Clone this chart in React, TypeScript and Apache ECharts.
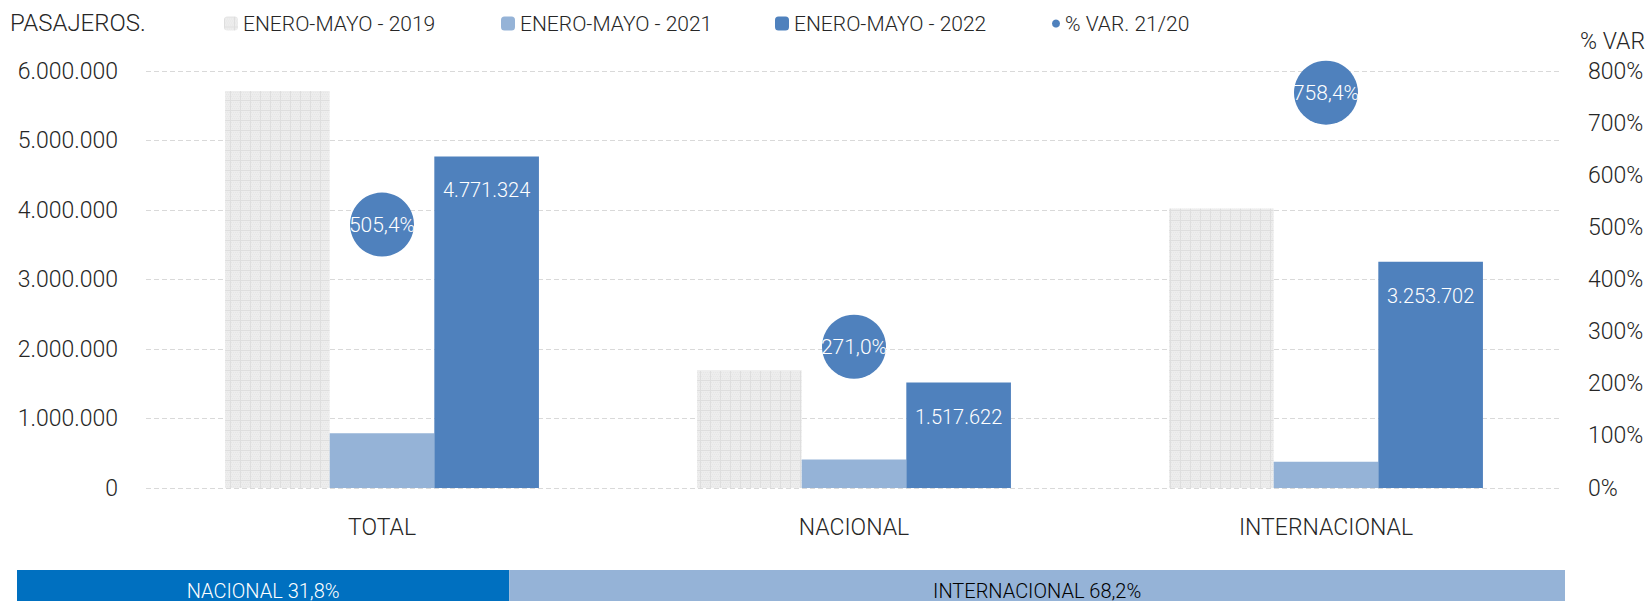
import React, { useEffect, useRef } from 'react';
import * as echarts from 'echarts';

// ---- data ----
const categories = ['TOTAL', 'NACIONAL', 'INTERNACIONAL'];
const seriesNames = ['ENERO-MAYO - 2019', 'ENERO-MAYO - 2021', 'ENERO-MAYO - 2022', '% VAR. 21/20'];
const pax2019 = [5712000, 1690000, 4022000];
const pax2021 = [788100, 409060, 379040];
const pax2022 = [4771324, 1517622, 3253702];
const varPct = [505.4, 271.0, 758.4];
const leftAxisTicks = [0, 1000000, 2000000, 3000000, 4000000, 5000000, 6000000];
const rightAxisTicks = [0, 100, 200, 300, 400, 500, 600, 700, 800];
const shareNames = ['NACIONAL', 'INTERNACIONAL'];
const shareValues = [31.8, 68.2];

const FONT = 'Roboto, "Noto Sans", sans-serif';
const TXT = '#262626';
const W = 300;

function fmtThousands(v: number): string {
  return String(Math.round(v)).replace(/\B(?=(\d{3})+(?!\d))/g, '.');
}
function fmtPct(v: number): string {
  return v.toFixed(1).replace('.', ',') + '%';
}

function makePattern(): HTMLCanvasElement {
  const c = document.createElement('canvas');
  c.width = 10;
  c.height = 10;
  const ctx = c.getContext('2d')!;
  ctx.fillStyle = '#EDEDED';
  ctx.fillRect(0, 0, 10, 10);
  ctx.fillStyle = '#E6E6E6';
  for (let y = 0; y < 10; y += 2) {
    for (let x = (y / 2) % 2; x < 10; x += 2) ctx.fillRect(x, y, 1, 1);
  }
  ctx.fillStyle = '#DEDEDE';
  ctx.fillRect(0, 0, 10, 1);
  ctx.fillRect(0, 0, 1, 10);
  return c;
}

export default function App() {
  const ref = useRef<HTMLDivElement>(null);

  useEffect(() => {
    if (!ref.current) return;
    const chart = echarts.init(ref.current, undefined, { renderer: 'svg' });
    const pattern = { image: makePattern(), repeat: 'repeat' as const };
    const legendText = { fontFamily: FONT, fontSize: 21, fontWeight: W, color: TXT };
    const legendBase = { top: 13, padding: 0, itemWidth: 14, itemHeight: 14, textStyle: legendText, selectedMode: false };

    const option: any = {
      animation: false,
      textStyle: { fontFamily: FONT },
      title: [
        {
          text: 'PASAJEROS.',
          left: 10,
          top: 11,
          padding: 0,
          textStyle: { fontFamily: FONT, fontSize: 24, fontWeight: W, color: TXT },
        },
        {
          text: '% VAR',
          right: 6,
          top: 30,
          padding: 0,
          textStyle: { fontFamily: FONT, fontSize: 23, fontWeight: W, color: TXT },
        },
      ],
      legend: [
        { ...legendBase, data: [seriesNames[0]], left: 224 },
        { ...legendBase, data: [seriesNames[1]], left: 501 },
        { ...legendBase, data: [seriesNames[2]], left: 775 },
        { ...legendBase, data: [{ name: seriesNames[3], icon: 'circle' }], left: 1052, itemWidth: 8, itemHeight: 8 },
      ],
      grid: [
        { left: 146, right: 89, top: 71, bottom: 113 },
        { left: 17, right: 86, top: 570, height: 56 },
      ],
      xAxis: [
        {
          type: 'category',
          gridIndex: 0,
          data: categories,
          axisLine: { show: false },
          axisTick: { show: false },
          axisLabel: { fontFamily: FONT, fontSize: 23, fontWeight: W, color: TXT, margin: 28 },
        },
        { type: 'value', gridIndex: 1, min: 0, max: 100, show: false },
      ],
      yAxis: [
        {
          type: 'value',
          gridIndex: 0,
          min: leftAxisTicks[0],
          max: leftAxisTicks[leftAxisTicks.length - 1],
          interval: leftAxisTicks[1] - leftAxisTicks[0],
          axisLine: { show: false },
          axisTick: { show: false },
          axisLabel: { fontFamily: FONT, fontSize: 23, fontWeight: W, color: TXT, margin: 28, formatter: (v: number) => fmtThousands(v) },
          splitLine: { lineStyle: { color: '#D9D9D9', width: 1, type: [5, 3] } },
        },
        {
          type: 'value',
          gridIndex: 0,
          position: 'right',
          min: rightAxisTicks[0],
          max: rightAxisTicks[rightAxisTicks.length - 1],
          interval: rightAxisTicks[1] - rightAxisTicks[0],
          axisLine: { show: false },
          axisTick: { show: false },
          splitLine: { show: false },
          axisLabel: { fontFamily: FONT, fontSize: 23, fontWeight: W, color: TXT, margin: 26, formatter: (v: number) => v + '%' },
        },
        { type: 'category', gridIndex: 1, data: [''], show: false },
      ],
      series: [
        {
          name: seriesNames[0],
          type: 'bar',
          xAxisIndex: 0,
          yAxisIndex: 0,
          data: pax2019,
          barGap: '0%',
          barCategoryGap: '33.5%',
          itemStyle: { color: pattern },
        },
        {
          name: seriesNames[1],
          type: 'bar',
          xAxisIndex: 0,
          yAxisIndex: 0,
          data: pax2021,
          itemStyle: { color: '#95B3D7' },
        },
        {
          name: seriesNames[2],
          type: 'bar',
          xAxisIndex: 0,
          yAxisIndex: 0,
          data: pax2022,
          itemStyle: { color: '#4F81BD' },
          label: {
            show: true,
            position: 'insideTop',
            distance: 24,
            color: '#FFFFFF',
            fontFamily: FONT,
            fontSize: 20,
            fontWeight: W,
            formatter: (p: any) => fmtThousands(p.value),
          },
        },
        {
          name: seriesNames[3],
          type: 'scatter',
          xAxisIndex: 0,
          yAxisIndex: 1,
          data: varPct,
          symbol: 'circle',
          symbolSize: 64,
          z: 5,
          itemStyle: { color: '#4F81BD', opacity: 1 },
          label: {
            show: true,
            position: 'inside',
            color: '#FFFFFF',
            fontFamily: FONT,
            fontSize: 21,
            fontWeight: W,
            formatter: (p: any) => fmtPct(p.value),
          },
        },
        {
          name: shareNames[0],
          type: 'bar',
          xAxisIndex: 1,
          yAxisIndex: 2,
          stack: 'share',
          barWidth: '100%',
          data: [shareValues[0]],
          itemStyle: { color: '#0070C0' },
          label: {
            show: true,
            position: 'inside',
            offset: [0, 5],
            color: '#FFFFFF',
            fontFamily: FONT,
            fontSize: 20,
            fontWeight: W,
            formatter: () => `${shareNames[0]} ${fmtPct(shareValues[0])}`,
          },
        },
        {
          name: shareNames[1],
          type: 'bar',
          xAxisIndex: 1,
          yAxisIndex: 2,
          stack: 'share',
          barWidth: '100%',
          data: [shareValues[1]],
          itemStyle: { color: '#95B3D7' },
          label: {
            show: true,
            position: 'inside',
            offset: [0, 5],
            color: '#000000',
            fontFamily: FONT,
            fontSize: 20,
            fontWeight: W,
            formatter: () => `${shareNames[1]} ${fmtPct(shareValues[1])}`,
          },
        },
      ],
    };

    chart.setOption(option);
    return () => chart.dispose();
  }, []);

  return (
    <div
      ref={ref}
      style={{ position: 'absolute', left: 0, top: 0, width: 1651, height: 601, background: '#FFFFFF' }}
    />
  );
}
